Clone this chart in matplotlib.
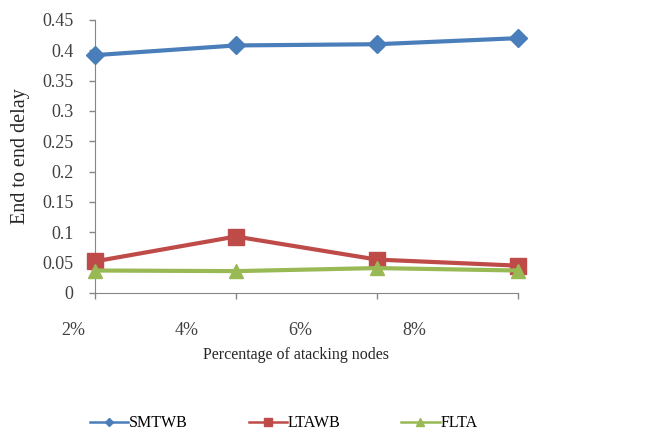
import matplotlib
matplotlib.use("Agg")
import matplotlib.pyplot as plt
from matplotlib.lines import Line2D

categories = ["2%", "4%", "6%", "8%"]
smtwb = [0.392, 0.408, 0.410, 0.420]
ltawb = [0.052, 0.093, 0.055, 0.045]
flta = [0.037, 0.036, 0.041, 0.037]

plt.rcParams["font.family"] = ["Liberation Serif", "DejaVu Serif"]

fig = plt.figure(figsize=(6.54, 4.34), dpi=100)
ax = fig.add_axes([0.145, 0.325, 0.647, 0.629])

blue = "#4A7EBB"
red = "#BE4B48"
green = "#98B954"

x = list(range(len(categories)))
ax.plot(x, smtwb, color=blue, lw=3, marker="D", ms=9.5, clip_on=False, zorder=3)
ax.plot(x, ltawb, color=red, lw=3, marker="s", ms=11, clip_on=False, zorder=3)
ax.plot(x, flta, color=green, lw=3, marker="^", ms=10, clip_on=False, zorder=4)

ax.set_xlim(0, 3)
ax.set_ylim(0, 0.45)
ax.set_yticks([0, 0.05, 0.1, 0.15, 0.2, 0.25, 0.3, 0.35, 0.4, 0.45])
ax.set_yticklabels(["0", "0.05", "0.1", "0.15", "0.2", "0.25", "0.3", "0.35", "0.4", "0.45"])
ax.set_xticks(x)
ax.set_xticklabels([])

for s in ["top", "right"]:
    ax.spines[s].set_visible(False)
for s in ["left", "bottom"]:
    ax.spines[s].set_color("#868686")
ax.tick_params(axis="both", colors="#868686", labelcolor="#404040", labelsize=13,
               length=4.5, width=1)
ax.tick_params(axis="y", pad=11)

# category labels sit below the axis
label_pos = [-0.05, 0.218, 0.486, 0.754]
for lx, lab in zip(label_pos, categories):
    ax.text(lx, -0.136, lab, transform=ax.transAxes, ha="center", va="center",
            fontsize=13, color="#404040")

ax.text(0.476, -0.227, "Percentage of atacking nodes", transform=ax.transAxes,
        ha="center", va="center", fontsize=11.5, color="#262626")
ax.set_ylabel("End to end delay", fontsize=14.5, color="#262626")
ax.yaxis.set_label_coords(-0.154, 0.5)

handles = [
    Line2D([], [], color=blue, lw=1.8, marker="D", ms=4.5),
    Line2D([], [], color=red, lw=1.8, marker="s", ms=6),
    Line2D([], [], color=green, lw=1.8, marker="^", ms=6),
]
fig.legend(handles, ["SMTWB", "LTAWB", "FLTA"], loc="center", ncol=3,
           bbox_to_anchor=(0.434, 0.025), frameon=False, fontsize=11.5,
           handlelength=2.4, handletextpad=0.05, columnspacing=3.8)

fig.savefig("out.png", dpi=100)
